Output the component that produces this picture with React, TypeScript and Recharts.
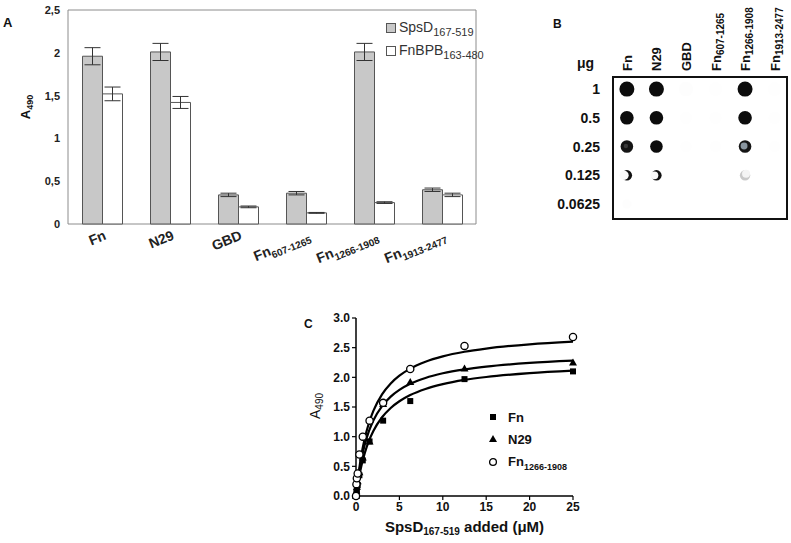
import React from 'react';
import {
  BarChart, Bar, XAxis, YAxis, ErrorBar, ReferenceArea,
  ScatterChart, Scatter, ComposedChart, Line,
} from 'recharts';

const FONT = '"Liberation Sans", Arial, sans-serif';

// ---------- Panel A data ----------
const aCategories = ['Fn', 'N29', 'GBD', 'Fn', 'Fn', 'Fn'];
const aCategorySubs = ['', '', '', '607-1265', '1266-1908', '1913-2477'];
const spsdValues = [1.96, 2.01, 0.34, 0.36, 2.01, 0.40];
const spsdErrors = [0.10, 0.10, 0.02, 0.02, 0.10, 0.02];
const fnbpbValues = [1.52, 1.42, 0.20, 0.13, 0.25, 0.34];
const fnbpbErrors = [0.08, 0.07, 0.01, 0.005, 0.01, 0.02];
const aYTicks = [0, 0.5, 1, 1.5, 2, 2.5];
const aSeriesNames = [['SpsD', '167-519'], ['FnBPB', '163-480']];

const barData = aCategories.map((c, i) => ({
  key: c + aCategorySubs[i],
  base: c,
  sub: aCategorySubs[i],
  spsd: spsdValues[i],
  spsdErr: spsdErrors[i],
  fnbpb: fnbpbValues[i],
  fnbpbErr: fnbpbErrors[i],
}));

// ---------- Panel B data ----------
const bColumns = ['Fn', 'N29', 'GBD', 'Fn', 'Fn', 'Fn'];
const bColumnSubs = ['', '', '', '607-1265', '1266-1908', '1913-2477'];
const bRows = ['1', '0.5', '0.25', '0.125', '0.0625'];
const bIntensity = [
  [1, 1, 0.006, 0.004, 1, 0.004],
  [1, 1, 0.004, 0.004, 0.95, 0.004],
  [0.85, 1, 0.004, 0.004, 0.7, 0.004],
  [0.45, 0.55, 0, 0, 0.15, 0],
  [0.008, 0, 0, 0, 0, 0],
];
const blotData = bIntensity.flatMap((row, r) => row.map((v, c) => ({ col: c, row: r, v })));

// ---------- Panel C data ----------
const cX = [0, 0.049, 0.098, 0.195, 0.39, 0.78, 1.5625, 3.125, 6.25, 12.5, 25];
const cFn = [0, 0.05, 0.1, 0.18, 0.35, 0.6, 0.92, 1.27, 1.6, 1.97, 2.1];
const cN29 = [0, 0.08, 0.15, 0.25, 0.4, 0.65, 0.92, 1.55, 1.92, 2.15, 2.25];
const cFn1266 = [0, 0.2, 0.3, 0.38, 0.7, 1.0, 1.27, 1.57, 2.14, 2.53, 2.68];
const curveX = [0, 0.25, 0.5, 0.75, 1, 1.5, 2, 3, 4, 5, 6.25, 8, 10, 12.5, 15, 20, 25];
const curveFn = [0, 0.235, 0.426, 0.585, 0.719, 0.932, 1.095, 1.327, 1.484, 1.597, 1.701, 1.804, 1.885, 1.956, 2.006, 2.072, 2.114];
const curveN29 = [0, 0.292, 0.521, 0.707, 0.86, 1.097, 1.273, 1.515, 1.675, 1.788, 1.89, 1.99, 2.068, 2.134, 2.181, 2.243, 2.281];
const curveFn1266 = [0, 0.326, 0.583, 0.792, 0.966, 1.235, 1.436, 1.714, 1.898, 2.029, 2.147, 2.263, 2.353, 2.431, 2.485, 2.557, 2.602];
const cXTicks = [0, 5, 10, 15, 20, 25];
const cYTicks = [0, 0.5, 1, 1.5, 2, 2.5, 3];
const cLegend = [['Fn', ''], ['N29', ''], ['Fn', '1266-1908']];

const toPts = (xs: number[], ys: number[]) => xs.map((x, i) => ({ x, y: ys[i] }));

// ---------- Panel A components ----------
const ATick = (props: any) => {
  const { x, y, index } = props;
  const d = barData[index];
  return (
    <g transform={`translate(${x + 5},${y + 7})`}>
      <text transform="rotate(-22)" textAnchor="end" fontFamily={FONT} fontWeight="bold" fontSize={14} fill="#222">
        {d.base}
        {d.sub ? <tspan fontSize={10} dy={4}>{d.sub}</tspan> : null}
      </text>
    </g>
  );
};

const ALegend = () => (
  <div style={{ fontFamily: FONT, fontSize: 14, color: '#333', lineHeight: '23px' }}>
    {aSeriesNames.map((n, i) => (
      <div key={i} style={{ display: 'flex', alignItems: 'center', height: 23 }}>
        <span style={{ display: 'inline-block', width: 8, height: 8, border: '1px solid #555', background: i === 0 ? '#c8c8c8' : '#fff', marginRight: 3 }} />
        <span>{n[0]}<sub style={{ fontSize: 11, lineHeight: 0 }}>{n[1]}</sub></span>
      </div>
    ))}
  </div>
);

// ---------- Panel B components ----------
const BColTick = (props: any) => {
  const { x, y, payload } = props;
  const c = payload.value;
  return (
    <text transform={`translate(${x + 5},${y + 2}) rotate(-90)`} textAnchor="start" fontFamily={FONT} fontWeight="bold" fontSize={13} fill="#111">
      {bColumns[c]}
      {bColumnSubs[c] ? <tspan fontSize={10} dy={3}>{bColumnSubs[c]}</tspan> : null}
    </text>
  );
};

const BRowTick = (props: any) => {
  const { x, y, payload } = props;
  return (
    <text x={x - 5} y={y + 5} textAnchor="end" fontFamily={FONT} fontWeight="bold" fontSize={14} fill="#111">
      {bRows[payload.value]}
    </text>
  );
};

const BlotDot = (props: any) => {
  const { cx, cy, payload } = props;
  const v = payload.v;
  const r = [7.5, 6.8, 6.3, 5.2, 5][payload.row];
  if (v < 0.05) {
    return <circle cx={cx} cy={cy} r={r} fill={`rgba(0,0,0,${v})`} />;
  }
  if (v < 0.3) {
    return (
      <g>
        <circle cx={cx} cy={cy} r={r} fill="#c9c9c9" />
        <circle cx={cx + 1} cy={cy - 1.5} r={r - 1.2} fill="#f4f4f4" />
      </g>
    );
  }
  if (v < 0.65) {
    return (
      <g>
        <circle cx={cx} cy={cy} r={r} fill="#111" />
        <circle cx={cx - (v < 0.5 ? 2.8 : 2)} cy={cy} r={r - (v < 0.5 ? 0.6 : 1.3)} fill="#fafafa" />
      </g>
    );
  }
  if (v < 0.95) {
    return (
      <g>
        <circle cx={cx} cy={cy} r={r} fill="#151515" />
        <circle cx={cx - 1} cy={cy - 0.5} r={r * (v < 0.8 ? 0.55 : 0.35)} fill={v < 0.8 ? '#8a96a0' : '#3a3a3a'} />
      </g>
    );
  }
  return <circle cx={cx} cy={cy} r={r} fill="#0c0c0c" />;
};

// ---------- Panel C components ----------
const SquareDot = (p: any) => <rect x={p.cx - 3} y={p.cy - 3} width={6} height={6} fill="#000" />;
const TriDot = (p: any) => <polygon points={`${p.cx},${p.cy - 4} ${p.cx - 4},${p.cy + 3} ${p.cx + 4},${p.cy + 3}`} fill="#000" />;
const CircDot = (p: any) => <circle cx={p.cx} cy={p.cy} r={3.6} fill="#fff" stroke="#000" strokeWidth={1.3} />;

const CLegend = () => (
  <div style={{ fontFamily: FONT, fontSize: 13, fontWeight: 'bold', color: '#111' }}>
    {cLegend.map((n, i) => (
      <div key={i} style={{ display: 'flex', alignItems: 'center', height: 22.3 }}>
        <svg width={14} height={10} style={{ marginRight: 8 }}>
          {i === 0 && <rect x={4} y={2} width={6} height={6} fill="#000" />}
          {i === 1 && <polygon points="7,1 3,8 11,8" fill="#000" />}
          {i === 2 && <circle cx={7} cy={5} r={3.4} fill="#fff" stroke="#000" strokeWidth={1.3} />}
        </svg>
        <span>{n[0]}{n[1] ? <sub style={{ fontSize: 9, lineHeight: 0 }}>{n[1]}</sub> : null}</span>
      </div>
    ))}
  </div>
);

export default function App() {
  return (
    <div style={{ position: 'absolute', left: 0, top: 0, width: 791, height: 543, background: '#fff', overflow: 'hidden' }}>
      {/* Panel A */}
      <div style={{ position: 'absolute', left: 0, top: 0 }}>
        <BarChart width={500} height={280} data={barData} margin={{ top: 10, right: 24, bottom: 6, left: 28 }} barCategoryGap={14.5} barGap={0}>
          <ReferenceArea y1={0} y2={2.5} fill="none" stroke="#8c8c8c" strokeWidth={1} ifOverflow="visible" />
          <XAxis dataKey="key" tick={<ATick />} axisLine={false} tickLine={false} height={50} interval={0} />
          <YAxis domain={[0, 2.5]} ticks={aYTicks} tickFormatter={(v: number) => String(v).replace('.', ',')}
            axisLine={false} tickLine={false} width={40}
            tick={{ fontSize: 11, fontWeight: 'bold', fill: '#222', fontFamily: FONT }} />
          <Bar dataKey="spsd" fill="#c8c8c8" stroke="#555" strokeWidth={1} isAnimationActive={false}>
            <ErrorBar dataKey="spsdErr" width={8} stroke="#333" strokeWidth={1} />
          </Bar>
          <Bar dataKey="fnbpb" fill="#fff" stroke="#555" strokeWidth={1} isAnimationActive={false}>
            <ErrorBar dataKey="fnbpbErr" width={8} stroke="#333" strokeWidth={1} />
          </Bar>
        </BarChart>
      </div>
      <div style={{ position: 'absolute', left: 386, top: 16, width: 110 }}>
        <ALegend />
      </div>

      {/* Panel B */}
      <div style={{ position: 'absolute', left: 540, top: 0 }}>
        <ScatterChart width={251} height={230} margin={{ top: 7, right: 4, bottom: 11, left: 23 }}>
          <XAxis type="number" dataKey="col" orientation="top" domain={[-0.47, 5.42]} ticks={[0, 1, 2, 3, 4, 5]}
            axisLine={false} tickLine={false} height={70} tick={<BColTick />} interval={0} />
          <YAxis type="number" dataKey="row" domain={[-0.42, 4.52]} reversed ticks={[0, 1, 2, 3, 4]}
            axisLine={false} tickLine={false} width={50} tick={<BRowTick />} interval={0} />
          <ReferenceArea x1={-0.47} x2={5.42} y1={-0.42} y2={4.52} fill="#fff" fillOpacity={1} stroke="#111" strokeWidth={2} ifOverflow="visible" />
          <Scatter data={blotData} shape={<BlotDot />} isAnimationActive={false} />
        </ScatterChart>
      </div>

      {/* Panel C */}
      <div style={{ position: 'absolute', left: 290, top: 300 }}>
        <ComposedChart width={300} height={243} margin={{ top: 18, right: 17, bottom: 7, left: 31 }}>
          <XAxis type="number" dataKey="x" domain={[0, 25]} ticks={cXTicks} height={40}
            axisLine={{ stroke: '#000', strokeWidth: 1.5 }} tickLine={{ stroke: '#000', strokeWidth: 1.2 }} tickSize={4}
            tick={{ fontSize: 12, fontWeight: 'bold', fill: '#111', fontFamily: FONT }} />
          <YAxis type="number" dataKey="y" domain={[0, 3]} ticks={cYTicks} width={35} tickFormatter={(v: number) => v.toFixed(1)}
            axisLine={{ stroke: '#000', strokeWidth: 1.5 }} tickLine={{ stroke: '#000', strokeWidth: 1.2 }} tickSize={4}
            tick={{ fontSize: 12, fontWeight: 'bold', fill: '#111', fontFamily: FONT }} />
          <Line data={toPts(curveX, curveFn)} dataKey="y" type="monotone" stroke="#000" strokeWidth={2.2} dot={false} isAnimationActive={false} />
          <Line data={toPts(curveX, curveN29)} dataKey="y" type="monotone" stroke="#000" strokeWidth={2.2} dot={false} isAnimationActive={false} />
          <Line data={toPts(curveX, curveFn1266)} dataKey="y" type="monotone" stroke="#000" strokeWidth={2.2} dot={false} isAnimationActive={false} />
          <Scatter data={toPts(cX, cFn)} dataKey="y" shape={<SquareDot />} isAnimationActive={false} />
          <Scatter data={toPts(cX, cN29)} dataKey="y" shape={<TriDot />} isAnimationActive={false} />
          <Scatter data={toPts(cX, cFn1266)} dataKey="y" shape={<CircDot />} isAnimationActive={false} />
        </ComposedChart>
      </div>
      <div style={{ position: 'absolute', left: 486, top: 406, width: 110 }}>
        <CLegend />
      </div>

      {/* Free text: panel letters and axis titles */}
      <svg width={791} height={543} style={{ position: 'absolute', left: 0, top: 0, pointerEvents: 'none' }}>
        <g fontFamily={FONT} fill="#111">
          <text x={3} y={27} fontSize={13} fontWeight="bold">A</text>
          <text x={553} y={28} fontSize={12} fontWeight="bold">B</text>
          <text x={304} y={328} fontSize={12} fontWeight="bold">C</text>
          <text x={577} y={68} fontSize={14} fontWeight="bold">μg</text>
          <text transform="translate(30,107) rotate(-90)" textAnchor="middle" fontSize={13} fontWeight="bold">
            A<tspan fontSize={9} dy={3}>490</tspan>
          </text>
          <text transform="translate(320,406) rotate(-90)" textAnchor="middle" fontSize={14}>
            A<tspan fontSize={10} dy={3}>490</tspan>
          </text>
          <text x={464.5} y={532} textAnchor="middle" fontSize={15} fontWeight="bold">
            SpsD<tspan fontSize={10} dy={3}>167-519</tspan><tspan dy={-3}> added (μM)</tspan>
          </text>
        </g>
      </svg>
    </div>
  );
}
